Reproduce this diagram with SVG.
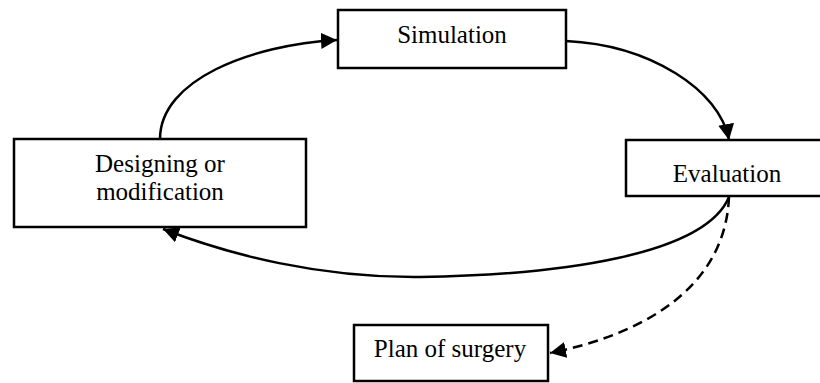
<svg xmlns="http://www.w3.org/2000/svg" width="820" height="383" viewBox="0 0 820 383">
<style>
.box{fill:#fff;stroke:#000;stroke-width:2.5}
.lbl{font-family:"Liberation Serif","Times New Roman",serif;font-size:25px;fill:#000;text-anchor:middle}
.edge{fill:none;stroke:#000;stroke-width:2.5}
.dash{stroke-dasharray:10 6}
</style>
<defs>
<marker id="ah" markerUnits="userSpaceOnUse" markerWidth="18" markerHeight="18" refX="16" refY="8" orient="auto">
<path d="M0,0 L16,8 L0,16 Z" fill="#000"/>
</marker>
</defs>
<rect width="820" height="383" fill="#fff"/>
<g id="connectors">
<path class="edge" d="M160,139 C160,80 250,45 337,40" marker-end="url(#ah)"/>
<path class="edge" d="M566,41 C650,45 720,90 729,140" marker-end="url(#ah)"/>
<path class="edge" d="M729,197 C705,255 560,275 420,277 C320,278 230,255 163,229" marker-end="url(#ah)"/>
<path class="edge dash" d="M729,197 C725,290 640,335 550,353" marker-end="url(#ah)"/>
</g>
<g id="simulation">
<rect class="box" x="338" y="10" width="228" height="58"/>
<text class="lbl" x="452" y="43">Simulation</text>
</g>
<g id="designing">
<rect class="box" x="14" y="139" width="292" height="88"/>
<text class="lbl" x="160" y="172">Designing or</text>
<text class="lbl" x="160" y="200">modification</text>
</g>
<g id="evaluation">
<rect class="box" x="626" y="140" width="200" height="56"/>
<text class="lbl" x="727" y="182">Evaluation</text>
</g>
<g id="plan">
<rect class="box" x="354" y="325" width="194" height="56"/>
<text class="lbl" x="450" y="357">Plan of surgery</text>
</g>
</svg>
